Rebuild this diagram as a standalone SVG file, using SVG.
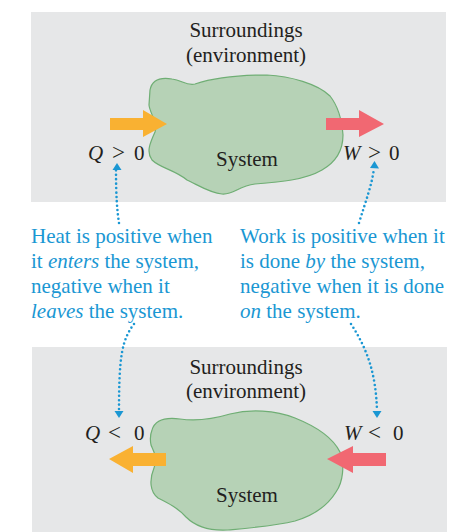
<svg xmlns="http://www.w3.org/2000/svg" width="452" height="532" viewBox="0 0 452 532">
<defs>
<style>
.panel{fill:#e6e7e8}
.blob{fill:#b6d2b6;stroke:#6fae74;stroke-width:1.2}
.lbl{font-family:"Liberation Serif","Times New Roman",serif;font-size:21px;fill:#231f20}
.ctr{text-anchor:middle}
.sym{font-size:23px}
.note{font-family:"Liberation Serif","Times New Roman",serif;font-size:21px;fill:#1a97d3}
.heat{fill:#f9b132}
.work{fill:#f16872}
.dot{fill:none;stroke:#1a97d3;stroke-width:2.6;stroke-dasharray:0 4.4;stroke-linecap:round}
.tip{fill:#1a97d3}
</style>
</defs>
<rect class="panel" x="31" y="12" width="415" height="190"/>
<rect class="panel" x="32" y="347" width="415" height="185"/>

<g id="top-system">
<path class="blob" d="M150,90 C152,80 160,77 172,79 C182,80 186,86 195,84 C210,79 235,75 267,75 C290,76 318,84 330,96 C338,106 342,122 343,135 C343,150 336,162 322,170 C305,180 280,182 255,184 C238,186 234,195 222,194 C210,193 198,185 187,180 C175,170 160,168 152,160 C146,152 150,143 155,132 C158,122 150,114 149,105 Z"/>
<text class="lbl ctr" x="247" y="166">System</text>
</g>
<g id="top-surroundings">
<text class="lbl ctr" x="246" y="37">Surroundings</text>
<text class="lbl ctr" x="246" y="62">(environment)</text>
</g>
<g id="top-heat">
<polygon class="heat" points="110,118 143,118 143,110 167,124 143,137 143,130 110,130"/>
<text class="lbl" y="160"><tspan x="88" font-style="italic">Q</tspan><tspan class="sym" x="112">&gt;</tspan><tspan x="134">0</tspan></text>
</g>
<g id="top-work">
<polygon class="work" points="326,118 359,118 359,110 384,124 359,137 359,130 326,130"/>
<text class="lbl" y="160"><tspan x="343" font-style="italic">W</tspan><tspan class="sym" x="368">&gt;</tspan><tspan x="389">0</tspan></text>
</g>

<g id="bottom-system">
<path class="blob" d="M152,430 C155,420 165,417 180,419 C195,421 210,420 230,414 C250,409 275,410 295,418 C315,426 333,438 340,452 C345,465 343,482 336,492 C328,505 315,515 295,521 C275,526 250,528 228,530 C210,531 195,526 186,517 C178,508 168,503 158,498 C150,492 149,480 154,468 C158,458 154,452 151,445 C150,440 150,435 152,430 Z"/>
<text class="lbl ctr" x="247" y="502">System</text>
</g>
<g id="bottom-surroundings">
<text class="lbl ctr" x="246" y="374">Surroundings</text>
<text class="lbl ctr" x="246" y="398">(environment)</text>
</g>
<g id="bottom-heat">
<polygon class="heat" points="166,453 133,453 133,446 109,459 133,473 133,466 166,466"/>
<text class="lbl" y="440"><tspan x="85" font-style="italic">Q</tspan><tspan class="sym" x="108">&lt;</tspan><tspan x="134">0</tspan></text>
</g>
<g id="bottom-work">
<polygon class="work" points="386,453 353,453 353,446 327,459 353,473 353,466 386,466"/>
<text class="lbl" y="440"><tspan x="344" font-style="italic">W</tspan><tspan class="sym" x="368">&lt;</tspan><tspan x="393">0</tspan></text>
</g>

<g id="heat-note">
<text class="note" x="31" y="243">Heat is positive when</text>
<text class="note" x="31" y="268">it <tspan font-style="italic">enters</tspan> the system,</text>
<text class="note" x="31" y="293">negative when it</text>
<text class="note" x="31" y="318"><tspan font-style="italic">leaves</tspan> the system.</text>
</g>
<g id="work-note">
<text class="note" x="240" y="243">Work is positive when it</text>
<text class="note" x="240" y="268">is done <tspan font-style="italic">by</tspan> the system,</text>
<text class="note" x="240" y="293">negative when it is done</text>
<text class="note" x="240" y="318"><tspan font-style="italic">on</tspan> the system.</text>
</g>

<g id="connectors">
<path class="dot" d="M119,223 C117,210 116,195 116,170"/>
<polygon class="tip" points="117,163 112.5,170 121.5,170"/>
<path class="dot" d="M359,223 C366,200 372,185 374,168"/>
<polygon class="tip" points="374.5,161 370,168 379,168.5"/>
<path class="dot" d="M134,324 C122,340 119,355 119,411"/>
<polygon class="tip" points="119,418 114.5,411 123.5,411"/>
<path class="dot" d="M351,324 C368,350 376,375 377,411"/>
<polygon class="tip" points="377,418 372.5,411 381.5,411"/>
</g>
</svg>
